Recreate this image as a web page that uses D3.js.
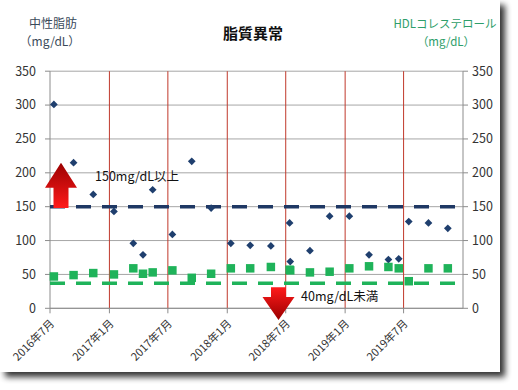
<!DOCTYPE html>
<html lang="ja">
<head>
<meta charset="UTF-8">
<title>脂質異常</title>
<script src="https://d3js.org/d3.v7.min.js"></script>
<style>
  body { margin: 0; background: #fff; }
  svg { display: block; font-family: "Noto Sans CJK JP", sans-serif; }
</style>
</head>
<body>
<svg id="chart" width="518" height="390"></svg>
<script>
// 検査日
const dates = [
  "2016-07-13", "2016-09-12", "2016-11-12", "2017-01-15", "2017-03-16", "2017-04-15",
  "2017-05-15", "2017-07-15", "2017-09-13", "2017-11-12", "2018-01-12", "2018-03-13",
  "2018-05-16", "2018-07-13", "2018-07-15", "2018-09-14", "2018-11-14", "2019-01-14",
  "2019-03-16", "2019-05-15", "2019-06-16", "2019-07-17", "2019-09-16", "2019-11-15"
];
// 中性脂肪 (mg/dL)
const tgValues = [301, 215, 168, 143, 96, 79, 175, 109, 217, 148, 96, 93,
                  92, 126, 69, 85, 136, 136, 79, 72, 73, 128, 126, 118];
// HDLコレステロール (mg/dL)
const hdlValues = [47, 49, 52, 50, 59, 51, 53, 56, 45, 51, 59, 59,
                   61, 57, 56, 53, 54, 59, 62, 61, 59, 40, 59, 59];
const tgLimit = 150;
const hdlLimit = 37;
const yTicks = [0, 50, 100, 150, 200, 250, 300, 350];
const xTickDates = ["2016-07-01", "2017-01-01", "2017-07-01", "2018-01-01",
                    "2018-07-01", "2019-01-01", "2019-07-01"];
const xTickLabels = ["2016年7月", "2017年1月", "2017年7月", "2018年1月",
                     "2018年7月", "2019年1月", "2019年7月"];

const parse = d3.timeParse("%Y-%m-%d");
const svg = d3.select("#chart");

const x = d3.scaleTime()
  .domain([parse("2016-07-01"), parse("2020-01-01")])
  .range([50, 463]);
const y = d3.scaleLinear().domain([0, 350]).range([308.3, 71.2]);

// 影付きの枠
const defs = svg.append("defs");
const f = defs.append("filter").attr("id", "shadow")
  .attr("x", "-5%").attr("y", "-5%").attr("width", "115%").attr("height", "115%");
f.append("feGaussianBlur").attr("in", "SourceAlpha").attr("stdDeviation", 3);
f.append("feOffset").attr("dx", 5).attr("dy", 5).attr("result", "b");
f.append("feComponentTransfer").append("feFuncA").attr("type", "linear").attr("slope", 0.8);
const m = f.append("feMerge");
m.append("feMergeNode");
m.append("feMergeNode").attr("in", "SourceGraphic");

svg.append("rect").attr("x", 0).attr("y", 0).attr("width", 500).attr("height", 372)
  .attr("fill", "#fff").attr("filter", "url(#shadow)");

function arrowGrad(id, dark) {
  const g = defs.append("linearGradient").attr("id", id)
    .attr("x1", 0).attr("y1", 0).attr("x2", 0).attr("y2", 1);
  g.append("stop").attr("offset", "0%").attr("stop-color", dark ? "#9a0000" : "#ff1a1a");
  g.append("stop").attr("offset", "100%").attr("stop-color", dark ? "#ff1a1a" : "#9a0000");
}
arrowGrad("gUp", true);
arrowGrad("gDown", false);

// 横グリッド
svg.append("g").selectAll("line").data(yTicks).join("line")
  .attr("x1", 50).attr("x2", 463)
  .attr("y1", d => y(d)).attr("y2", d => y(d))
  .attr("stroke", "#a6a6a6").attr("stroke-width", 1);

// 縦グリッド (赤)
svg.append("g").selectAll("line").data(xTickDates.slice(1)).join("line")
  .attr("x1", d => x(parse(d))).attr("x2", d => x(parse(d)))
  .attr("y1", y(350)).attr("y2", y(0))
  .attr("stroke", "#c0392b").attr("stroke-width", 1);

// 軸
svg.append("line").attr("x1", 50).attr("x2", 50).attr("y1", y(350)).attr("y2", y(0))
  .attr("stroke", "#8c8c8c");
svg.append("line").attr("x1", 463).attr("x2", 463).attr("y1", y(350)).attr("y2", y(0))
  .attr("stroke", "#8c8c8c");
svg.append("line").attr("x1", 50).attr("x2", 463).attr("y1", y(0)).attr("y2", y(0))
  .attr("stroke", "#8c8c8c");

const ticks = svg.append("g").attr("font-size", 12.5).attr("fill", "#333");
yTicks.forEach(v => {
  svg.append("line").attr("x1", 45).attr("x2", 50).attr("y1", y(v)).attr("y2", y(v)).attr("stroke", "#8c8c8c");
  svg.append("line").attr("x1", 463).attr("x2", 468).attr("y1", y(v)).attr("y2", y(v)).attr("stroke", "#8c8c8c");
  ticks.append("text").attr("x", 36).attr("y", y(v)).attr("dy", "0.35em")
    .attr("text-anchor", "end").text(v);
  ticks.append("text").attr("x", 472).attr("y", y(v)).attr("dy", "0.35em").text(v);
});
xTickDates.forEach((d, i) => {
  const px = x(parse(d));
  svg.append("line").attr("x1", px).attr("x2", px).attr("y1", y(0)).attr("y2", y(0) + 5).attr("stroke", "#8c8c8c");
  ticks.append("text")
    .attr("transform", `translate(${px + 5},${y(0) + 16}) rotate(-45)`)
    .attr("text-anchor", "end").attr("font-size", 11)
    .text(xTickLabels[i]);
});

// 基準線
const dash = "15,11";
svg.append("line").attr("x1", 50).attr("x2", 463)
  .attr("y1", y(tgLimit)).attr("y2", y(tgLimit))
  .attr("stroke", "#1f3864").attr("stroke-width", 3.5).attr("stroke-dasharray", dash);
svg.append("line").attr("x1", 50).attr("x2", 463)
  .attr("y1", y(hdlLimit)).attr("y2", y(hdlLimit))
  .attr("stroke", "#1fb35a").attr("stroke-width", 3.5).attr("stroke-dasharray", dash);

// 中性脂肪
svg.append("g").selectAll("path").data(dates).join("path")
  .attr("d", d3.symbol(d3.symbolSquare, 30))
  .attr("transform", (d, i) => `translate(${x(parse(d))},${y(tgValues[i])}) rotate(45)`)
  .attr("fill", "#1f3f6e");

// HDL
svg.append("g").selectAll("path").data(dates).join("path")
  .attr("d", d3.symbol(d3.symbolSquare, 72))
  .attr("transform", (d, i) => `translate(${x(parse(d))},${y(hdlValues[i])})`)
  .attr("fill", "#1fb35a");

// 矢印
function arrow(cx, yBase, yTip, up) {
  const hw = 16, sw = 7.5, hh = up ? 25 : 23;
  const dir = up ? -1 : 1;
  const yHead = yTip - dir * hh;
  const pts = [
    [cx - sw, yBase], [cx - sw, yHead], [cx - hw, yHead], [cx, yTip],
    [cx + hw, yHead], [cx + sw, yHead], [cx + sw, yBase]
  ];
  svg.append("path").attr("d", d3.line()(pts) + "Z")
    .attr("fill", up ? "url(#gUp)" : "url(#gDown)");
}
arrow(61, y(148), y(215), true);
arrow(278.5, y(31), 320, false);

const notes = svg.append("g").attr("font-size", 12.5).attr("fill", "#111");
notes.append("text").attr("x", 95).attr("y", 181).text("150mg/dL以上");
notes.append("text").attr("x", 301).attr("y", 301).text("40mg/dL未満");

// タイトル
svg.append("text").attr("x", 253).attr("y", 39).attr("text-anchor", "middle")
  .attr("font-size", 15).attr("font-weight", "bold").attr("fill", "#111").text("脂質異常");
const lt = svg.append("g").attr("font-size", 12).attr("fill", "#3a4a5a").attr("text-anchor", "middle");
lt.append("text").attr("x", 53).attr("y", 28).text("中性脂肪");
lt.append("text").attr("x", 50).attr("y", 46).text("（mg/dL）");
const rt = svg.append("g").attr("font-size", 11.5).attr("fill", "#2e9e6a").attr("text-anchor", "middle");
rt.append("text").attr("x", 445).attr("y", 28).text("HDLコレステロール");
rt.append("text").attr("x", 446).attr("y", 46).text("（mg/dL）");
</script>
</body>
</html>
